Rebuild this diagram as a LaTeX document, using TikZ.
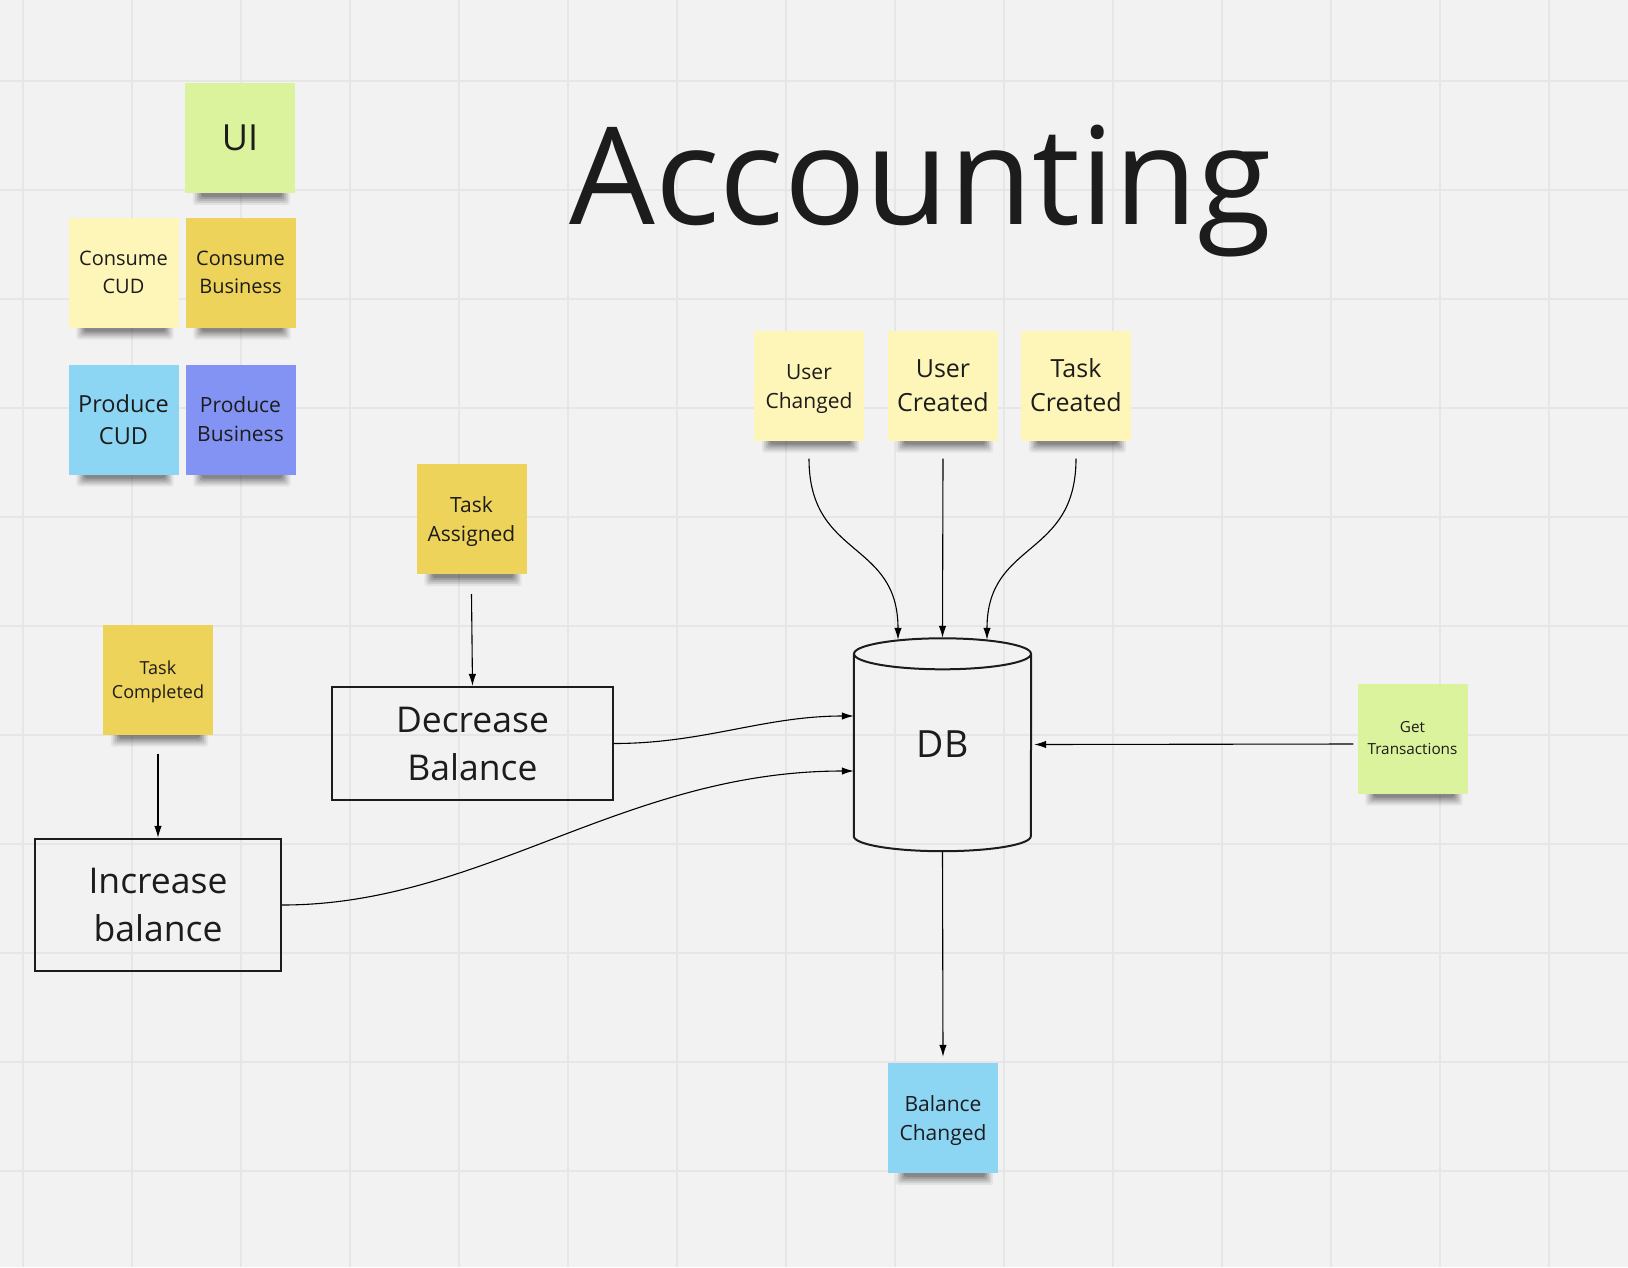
\documentclass[tikz,border=0pt]{standalone}
\usepackage{fontspec}
\setmainfont{Open Sans}
\usetikzlibrary{arrows.meta}
\definecolor{bgc}{RGB}{242,242,242}
\definecolor{gridc}{RGB}{230,230,230}
\definecolor{inkc}{RGB}{28,28,28}
\definecolor{sgreen}{RGB}{219,243,156}
\definecolor{syellow}{RGB}{254,246,184}
\definecolor{sgold}{RGB}{238,211,90}
\definecolor{sblue}{RGB}{140,214,244}
\definecolor{sviolet}{RGB}{131,147,243}
\pgfdeclarelayer{bglayer}
\pgfsetlayers{bglayer,main}
\tikzset{
  sticky/.style={rectangle, inner sep=0pt, minimum width=110pt, minimum height=110pt,
    align=center, text=inkc},
  procbox/.style={rectangle, draw=inkc, line width=2.2pt, inner sep=0pt, align=center, text=inkc,
    font=\fontsize{35.5}{48}\selectfont},
  conn/.style={draw=black, line width=1.1pt, -{Latex[length=12pt,width=7.5pt]}},
  dbline/.style={draw=inkc, line width=2pt},
}
\newcommand\stickshadow[1]{%
  \foreach \a/\b/\c/\o in {8/5/12/0.06, 10/7/10/0.09, 12/9/8/0.11, 14/11/6/0.13, 16/13/4/0.15}{
    \fill[black, opacity=\o, rounded corners=3pt] ([xshift=\a pt, yshift=2pt]#1.south west)
      rectangle ([xshift=-\b pt, yshift=-\c pt]#1.south east);
  }%
}
\begin{document}
\begin{tikzpicture}[x=1pt,y=-1pt]
\useasboundingbox (0,0) rectangle (1628,1267);

% title
\node[font=\fontsize{135.5}{160}\selectfont, text=inkc, anchor=base, inner sep=0pt] (title) at (920.5,224) {Accounting};

% legend stickies
\node[sticky, fill=sgreen, font=\fontsize{36}{44}\selectfont] (ui) at (240,138) {UI};
\node[sticky, fill=syellow, font=\fontsize{20}{28}\selectfont] (ccud) at (123.5,272.5) {Consume\\CUD};
\node[sticky, fill=sgold, font=\fontsize{20}{28}\selectfont] (cbus) at (240.5,272.5) {Consume\\Business};
\node[sticky, fill=sblue, font=\fontsize{23.5}{32}\selectfont] (pcud) at (123.5,419.5) {Produce\\CUD};
\node[sticky, fill=sviolet, font=\fontsize{21}{29}\selectfont] (pbus) at (240.5,419.5) {Produce\\Business};

% event stickies
\node[sticky, fill=syellow, font=\fontsize{21}{29}\selectfont] (uc) at (809,385.5) {\rule{0pt}{22pt}User\\Changed};
\node[sticky, fill=syellow, font=\fontsize{25}{34}\selectfont] (ucr) at (943,385.5) {User\\Created};
\node[sticky, fill=syellow, font=\fontsize{25}{34}\selectfont] (tcr) at (1076,385.5) {Task\\Created};
\node[sticky, fill=sgold, font=\fontsize{21}{29}\selectfont] (ta) at (471.5,519) {\rule{0pt}{22pt}Task\\Assigned};
\node[sticky, fill=sgold, font=\fontsize{18}{24}\selectfont] (tcomp) at (158,679.5) {\rule{0pt}{18pt}Task\\Completed};
\node[sticky, fill=sgreen, font=\fontsize{15.3}{22}\selectfont] (gt) at (1412.5,738.5) {Get\\Transactions};
\node[sticky, fill=sblue, font=\fontsize{21}{29}\selectfont] (bc) at (943,1118) {\rule{0pt}{22pt}Balance\\Changed};

% process boxes
\node[procbox, minimum width=281pt, minimum height=113pt] (dec) at (472.5,743.5) {Decrease\\Balance};
\node[procbox, minimum width=246pt, minimum height=132pt] (inc) at (158,905) {Increase\\balance};

% database
\node[inner sep=0pt, minimum width=177pt, minimum height=213pt, text=inkc,
  font=\fontsize{37.5}{46}\selectfont] (db) at (942.5,744.5) {DB};
\draw[dbline] ([yshift=-16pt]db.north west) -- ([yshift=15pt]db.south west)
  arc[start angle=180, end angle=360, x radius=88.5pt, y radius=15pt]
  -- ([yshift=-16pt]db.north east);
\draw[dbline] ([yshift=-16pt]db.north) ellipse [x radius=88.5pt, y radius=15.5pt];

% connectors
\draw[conn] ([yshift=-18pt]uc.south) .. controls +(0pt,-100pt) and +(0pt,100pt) .. ([xshift=-44.5pt,yshift=-2pt]db.north);
\draw[conn] ([yshift=-18pt]ucr.south) -- (db.north);
\draw[conn] ([yshift=-18pt]tcr.south) .. controls +(0pt,-100pt) and +(0pt,100pt) .. ([xshift=44.5pt,yshift=-2pt]db.north);
\draw[conn] ([yshift=-20pt]ta.south) -- (dec.north);
\draw[conn] ([yshift=-19pt]tcomp.south) -- (inc.north);
\draw[conn] (dec.east) .. controls +(90pt,0pt) and +(-90pt,0pt) .. ([yshift=28.5pt]db.west);
\draw[conn] (inc.east) .. controls +(200pt,0pt) and +(-230pt,0pt) .. ([yshift=-26.5pt]db.west);
\draw[conn] ([xshift=-4pt,yshift=-5.5pt]gt.west) -- ([xshift=3pt]db.east);
\draw[conn] (db.south) -- ([yshift=6pt]bc.north);

% background, grid, shadows
\begin{pgfonlayer}{bglayer}
  \fill[bgc] (0,0) rectangle (1628,1267);
  \foreach \gx in {23,132,...,1628} \draw[gridc, line width=1.4pt] (\gx,0) -- (\gx,1267);
  \foreach \gy in {81,190,...,1267} \draw[gridc, line width=1.4pt] (0,\gy) -- (1628,\gy);
  \foreach \s in {ui,ccud,cbus,pcud,pbus,uc,ucr,tcr,ta,tcomp,gt,bc}{\stickshadow{\s}}
\end{pgfonlayer}
\end{tikzpicture}
\end{document}
